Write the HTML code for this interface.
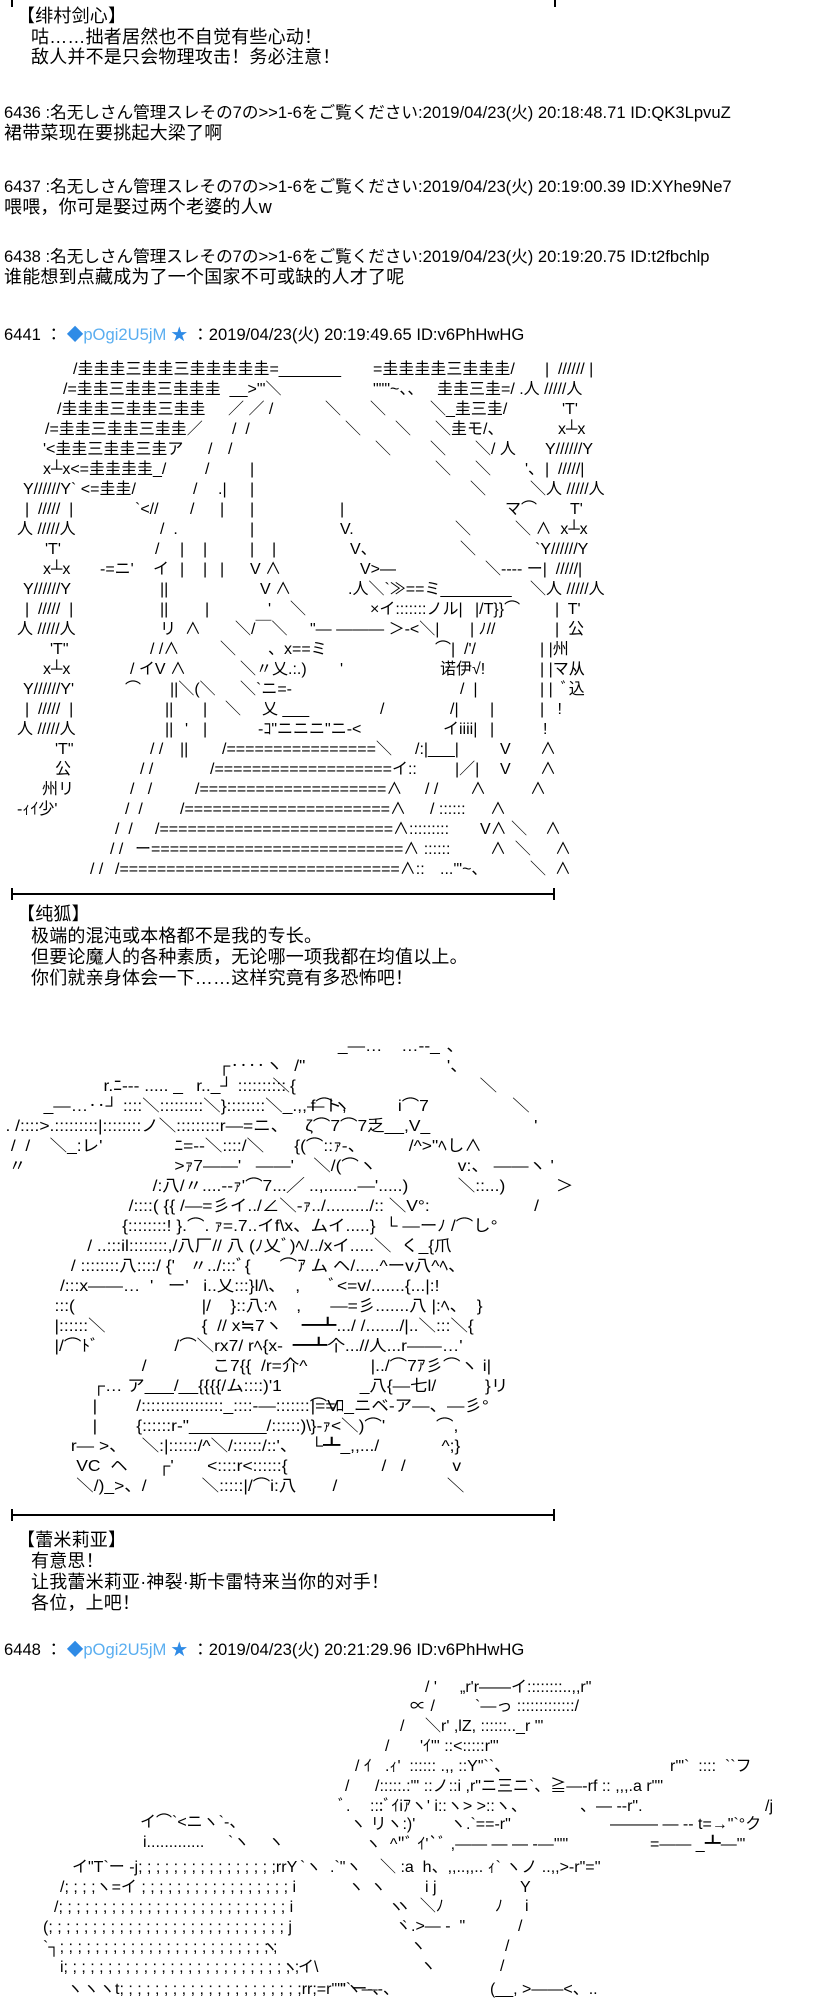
<!DOCTYPE html>
<html><head><meta charset="utf-8"><style>
html,body{margin:0;padding:0;background:#fff;}
body{width:838px;height:2000px;position:relative;overflow:hidden;color:#000;
font-family:"Liberation Sans","Noto Sans CJK SC",sans-serif;}
.t{position:absolute;white-space:pre;font-size:18px;line-height:20px;letter-spacing:0.2px;}
.h{position:absolute;white-space:pre;font-size:16.6px;line-height:20px;left:4px;font-family:"Liberation Sans","Noto Sans CJK JP",sans-serif;}
.b{color:#5aaef0}.bs{color:#2f8be6}
.r{position:absolute;left:0;height:20px;width:838px;}
.r i{position:absolute;top:0;font-style:normal;white-space:pre;font-size:16px;line-height:20px;font-family:"Liberation Sans","Noto Sans CJK JP",sans-serif;}
.sep{position:absolute;left:11px;width:543px;height:2px;background:#000;}
.tk{position:absolute;width:2px;height:12px;background:#000;}
.a2{position:absolute;left:0;top:0;width:838px;height:2000px;transform:scaleX(1.09);transform-origin:0 0;}
</style></head><body>

<div class="tk" style="left:11px;top:0;height:7px"></div>
<div class="tk" style="left:554px;top:0;height:7px"></div>

<div class="t" style="left:17px;top:6px">【绯村剑心】</div>
<div class="t" style="left:31px;top:27px">咕……拙者居然也不自觉有些心动！</div>
<div class="t" style="left:31px;top:47px">敌人并不是只会物理攻击！务必注意！</div>

<div class="h" style="top:103px">6436 :名无しさん管理スレその7の&gt;&gt;1-6をご覧ください:2019/04/23(火) 20:18:48.71 ID:QK3LpvuZ</div>
<div class="t" style="left:4px;top:123px">裙带菜现在要挑起大梁了啊</div>
<div class="h" style="top:177px">6437 :名无しさん管理スレその7の&gt;&gt;1-6をご覧ください:2019/04/23(火) 20:19:00.39 ID:XYhe9Ne7</div>
<div class="t" style="left:4px;top:197px">喂喂，你可是娶过两个老婆的人w</div>
<div class="h" style="top:247px">6438 :名无しさん管理スレその7の&gt;&gt;1-6をご覧ください:2019/04/23(火) 20:19:20.75 ID:t2fbchlp</div>
<div class="t" style="left:4px;top:267px">谁能想到点藏成为了一个国家不可或缺的人才了呢</div>

<div class="h" style="top:325px">6441 ： <span class="bs">◆</span><span class="b">pOgi2U5jM</span> <span class="bs">★</span> ：2019/04/23(火) 20:19:49.65 ID:v6PhHwHG</div>

<!-- ART 1 -->
<div class="r" style="top:360px"><i style="left:73px">/圭圭圭三圭圭三圭圭圭圭圭=_______</i><i style="left:373px">=圭圭圭圭三圭圭圭/</i><i style="left:545px">|  ////// |</i></div>
<div class="r" style="top:380px"><i style="left:63px">/=圭圭三圭圭三圭圭圭  __&gt;"'＼</i><i style="left:373px">"""~、、</i><i style="left:437px">圭圭三圭=/ .人 /////人</i></div>
<div class="r" style="top:400px"><i style="left:57px">/圭圭圭三圭圭三圭圭</i><i style="left:228px">／ ／ /</i><i style="left:325px">＼</i><i style="left:370px">＼</i><i style="left:430px">＼_圭三圭/</i><i style="left:562px">'T'</i></div>
<div class="r" style="top:420px"><i style="left:45px">/=圭圭三圭圭三圭圭／</i><i style="left:232px">/  /</i><i style="left:345px">＼</i><i style="left:395px">＼</i><i style="left:435px">＼圭モ/、</i><i style="left:558px">x┴x</i></div>
<div class="r" style="top:440px"><i style="left:43px">'&lt;圭圭三圭圭三圭ア</i><i style="left:208px">/</i><i style="left:228px">/</i><i style="left:375px">＼</i><i style="left:430px">＼</i><i style="left:475px">＼/ 人</i><i style="left:545px">Y//////Y</i></div>
<div class="r" style="top:460px"><i style="left:43px">x┴x&lt;=圭圭圭圭_/</i><i style="left:205px">/</i><i style="left:250px">|</i><i style="left:435px">＼</i><i style="left:475px">＼</i><i style="left:525px">'、</i><i style="left:545px">|  /////|</i></div>
<div class="r" style="top:480px"><i style="left:23px">Y//////Y` &lt;=圭圭/</i><i style="left:193px">/</i><i style="left:218px">.|</i><i style="left:250px">|</i><i style="left:470px">＼</i><i style="left:530px">＼人 /////人</i></div>
<div class="r" style="top:500px"><i style="left:25px">|  /////  |</i><i style="left:135px">`&lt;//</i><i style="left:190px">/</i><i style="left:220px">|</i><i style="left:250px">|</i><i style="left:340px">|</i><i style="left:505px">マ⌒</i><i style="left:570px">T'</i></div>
<div class="r" style="top:520px"><i style="left:17px">人 /////人</i><i style="left:160px">/  .</i><i style="left:250px">|</i><i style="left:340px">V.</i><i style="left:455px">＼</i><i style="left:515px">＼ ∧  x┴x</i></div>
<div class="r" style="top:540px"><i style="left:45px">'T'</i><i style="left:155px">/</i><i style="left:180px">|</i><i style="left:203px">|</i><i style="left:250px">|</i><i style="left:272px">|</i><i style="left:350px">V、</i><i style="left:460px">＼</i><i style="left:535px">`Y//////Y</i></div>
<div class="r" style="top:560px"><i style="left:43px">x┴x</i><i style="left:100px">-=ニ'</i><i style="left:153px">イ</i><i style="left:180px">|</i><i style="left:203px">|</i><i style="left:220px">|</i><i style="left:250px">V ∧</i><i style="left:360px">V&gt;—</i><i style="left:485px">＼---- ー|  /////|</i></div>
<div class="r" style="top:580px"><i style="left:23px">Y//////Y</i><i style="left:160px">||</i><i style="left:260px">V ∧</i><i style="left:348px">.人＼`≫==ミ________</i><i style="left:530px">＼人 /////人</i></div>
<div class="r" style="top:600px"><i style="left:25px">|  /////  |</i><i style="left:160px">||</i><i style="left:205px">|</i><i style="left:268px">'</i><i style="left:290px">＼</i><i style="left:370px">×イ:::::::ノル|</i><i style="left:475px">|/T}}⌒</i><i style="left:555px">|  T'</i></div>
<div class="r" style="top:620px"><i style="left:17px">人 /////人</i><i style="left:160px">リ  ∧</i><i style="left:235px">＼/￣＼</i><i style="left:310px">"— ——— ＞-&lt;＼|</i><i style="left:470px">| ﾉ//</i><i style="left:555px">|  公</i></div>
<div class="r" style="top:640px"><i style="left:50px">'T"</i><i style="left:150px">/ /∧</i><i style="left:220px">＼</i><i style="left:268px">、x==ミ</i><i style="left:435px">⌒|  /'/</i><i style="left:540px">| |州</i></div>
<div class="r" style="top:660px"><i style="left:43px">x┴x</i><i style="left:130px">/ イV ∧</i><i style="left:240px">＼〃乂.:.)</i><i style="left:340px">'</i><i style="left:440px">诺伊√!</i><i style="left:540px">| |マ从</i></div>
<div class="r" style="top:680px"><i style="left:23px">Y//////Y'</i><i style="left:125px">⌒</i><i style="left:170px">||＼(＼</i><i style="left:240px">＼`ニ=-</i><i style="left:460px">/  |</i><i style="left:540px">| |  ﾞ込</i></div>
<div class="r" style="top:700px"><i style="left:25px">|  /////  |</i><i style="left:165px">||</i><i style="left:203px">|</i><i style="left:225px">＼</i><i style="left:262px">乂 ___</i><i style="left:380px">/</i><i style="left:450px">/|</i><i style="left:490px">|</i><i style="left:540px">|   !</i></div>
<div class="r" style="top:720px"><i style="left:17px">人 /////人</i><i style="left:165px">||</i><i style="left:185px">'</i><i style="left:203px">|</i><i style="left:258px">-ｺ"ニニニ"ニ-&lt;</i><i style="left:443px">イiiii|</i><i style="left:490px">|</i><i style="left:543px">!</i></div>
<div class="r" style="top:740px"><i style="left:55px">'T"</i><i style="left:150px">/ /</i><i style="left:180px">||</i><i style="left:222px">/================＼</i><i style="left:415px">/:|___|</i><i style="left:500px">V</i><i style="left:540px">∧</i></div>
<div class="r" style="top:760px"><i style="left:55px">公</i><i style="left:140px">/ /</i><i style="left:210px">/===================イ::</i><i style="left:455px">|／|</i><i style="left:500px">V</i><i style="left:540px">∧</i></div>
<div class="r" style="top:780px"><i style="left:42px">州リ</i><i style="left:130px">/   /</i><i style="left:195px">/====================∧</i><i style="left:425px">/ /</i><i style="left:470px">∧</i><i style="left:530px">∧</i></div>
<div class="r" style="top:800px"><i style="left:17px">-ｨｲ少'</i><i style="left:125px">/  /</i><i style="left:180px">/======================∧</i><i style="left:430px">/ ::::::</i><i style="left:490px">∧</i></div>
<div class="r" style="top:820px"><i style="left:115px">/  /</i><i style="left:155px">/=========================∧:::::::::</i><i style="left:480px">V∧ ＼</i><i style="left:545px">∧</i></div>
<div class="r" style="top:840px"><i style="left:110px">/ /</i><i style="left:135px">ー===========================∧ ::::::</i><i style="left:490px">∧  ＼</i><i style="left:555px">∧</i></div>
<div class="r" style="top:860px"><i style="left:90px">/ /</i><i style="left:115px">/==============================∧::</i><i style="left:440px">...'"~、</i><i style="left:530px">＼  ∧</i></div>

<div class="sep" style="top:893px"></div>
<div class="tk" style="left:11px;top:888px"></div>
<div class="tk" style="left:553px;top:888px"></div>

<div class="t" style="left:17px;top:904px">【纯狐】</div>
<div class="t" style="left:31px;top:926px">极端的混沌或本格都不是我的专长。</div>
<div class="t" style="left:31px;top:947px">但要论魔人的各种素质，无论哪一项我都在均值以上。</div>
<div class="t" style="left:31px;top:968px">你们就亲身体会一下……这样究竟有多恐怖吧！</div>

<!-- ART 2 -->
<div class="a2">
<div class="r" style="top:1037px"><i style="left:310px">_—…</i><i style="left:368px">…--_</i><i style="left:410px">､</i></div>
<div class="r" style="top:1057px"><i style="left:200px">┌‥‥ヽ</i><i style="left:270px">/"</i><i style="left:410px">'、</i></div>
<div class="r" style="top:1077px"><i style="left:95px">r.ﾆ--- ..... _</i><i style="left:180px">r.._┘ ::::::::::</i><i style="left:250px">＼{</i><i style="left:440px">＼</i></div>
<div class="r" style="top:1097px"><i style="left:40px">_—…‥┘ ::::＼:::::::::＼}::::::::＼_.,,—ト,</i><i style="left:285px">f⌒ヽ</i><i style="left:365px">i⌒7</i><i style="left:470px">＼</i></div>
<div class="r" style="top:1117px"><i style="left:5px">. /::::&gt;.:::::::::|::::::::ノ＼:::::::::r—=ニ、</i><i style="left:280px">ζ⌒7⌒7乏__,V_</i><i style="left:490px">'</i></div>
<div class="r" style="top:1137px"><i style="left:10px">/  /    ＼_:レ'</i><i style="left:160px">ﾆ=--＼::::/＼</i><i style="left:270px">{(⌒::ｧ-、</i><i style="left:375px">/^&gt;"ﾍし∧</i></div>
<div class="r" style="top:1157px"><i style="left:8px">〃</i><i style="left:160px">&gt;ｧ7——'   ——'    ＼/(⌒ヽ</i><i style="left:420px">v:、 ——ヽ</i><i style="left:505px">'</i></div>
<div class="r" style="top:1177px"><i style="left:140px">/:八/〃....--ｧ'⌒7...╱ ..,.......—'.....)</i><i style="left:420px">＼::...)</i><i style="left:510px">＞</i></div>
<div class="r" style="top:1197px"><i style="left:118px">/::::( {{ /—=彡イ../∠＼-ｧ../........./:: ＼V°:</i><i style="left:490px">/</i></div>
<div class="r" style="top:1217px"><i style="left:112px">{::::::::! }.⌒. ｧ=.7..イf\x、ムイ.....}  └ —ーﾉ /⌒し°</i></div>
<div class="r" style="top:1237px"><i style="left:80px">/ ..:::il::::::::,/八厂// 八 (ﾉ乂ﾞ)ﾍ/../xイ.....＼  く_{爪</i></div>
<div class="r" style="top:1257px"><i style="left:65px">/ ::::::::八::::/ {'   〃../:::ﾞ{      ⌒ｱ ム ヘ/.....^ーv八^ﾍ、</i></div>
<div class="r" style="top:1277px"><i style="left:55px">/:::x——…  '   ー'   i..乂:::}l/\、  ,      ﾞ&lt;=v/.......{...|:!</i></div>
<div class="r" style="top:1297px"><i style="left:50px">:::(</i><i style="left:185px">|/    }::八:ﾍ    ,      —=彡.......八 |:ﾍ、  }</i></div>
<div class="r" style="top:1317px"><i style="left:50px">|::::::＼</i><i style="left:185px">{  // x≒7ヽ    ━┻.../ /......./|..＼:::＼{</i></div>
<div class="r" style="top:1337px"><i style="left:50px">|/⌒ﾄﾞ</i><i style="left:160px">/⌒＼rx7/ rﾍ{x-  ━┻个...//人...r——…'</i></div>
<div class="r" style="top:1357px"><i style="left:130px">/</i><i style="left:195px">こ7{{  /r=介^</i><i style="left:340px">|../⌒7ｱ彡⌒ヽ i|</i></div>
<div class="r" style="top:1377px"><i style="left:85px">┌… ア___/__{{{{/ム::::)'1</i><i style="left:330px">_八{—七l/</i><i style="left:445px">}リ</i></div>
<div class="r" style="top:1397px"><i style="left:85px">|</i><i style="left:125px">/:::::::::::::::::_::::-—:::::::⌒V</i><i style="left:285px">|==ﾛ_ニベ-ア—、—彡°</i></div>
<div class="r" style="top:1417px"><i style="left:85px">|</i><i style="left:125px">{::::::r-"________/::::::)\</i><i style="left:285px">}-ｧ&lt;＼)⌒'</i><i style="left:400px">⌒,</i></div>
<div class="r" style="top:1437px"><i style="left:65px">r— &gt;、</i><i style="left:130px">＼:|::::::/^＼/::::::/::'、</i><i style="left:285px">└┻_,,.../</i><i style="left:405px">^;}</i></div>
<div class="r" style="top:1457px"><i style="left:70px">VC  ヘ</i><i style="left:145px">┌'</i><i style="left:190px">&lt;::::r&lt;::::::{</i><i style="left:350px">/   /</i><i style="left:415px">v</i></div>
<div class="r" style="top:1477px"><i style="left:70px">＼/)_&gt;、/</i><i style="left:185px">＼:::::|/⌒i:八</i><i style="left:305px">/</i><i style="left:410px">＼</i></div>
</div>

<div class="sep" style="top:1514px"></div>
<div class="tk" style="left:11px;top:1509px"></div>
<div class="tk" style="left:553px;top:1509px"></div>

<div class="t" style="left:17px;top:1530px">【蕾米莉亚】</div>
<div class="t" style="left:31px;top:1551px">有意思！</div>
<div class="t" style="left:31px;top:1572px">让我蕾米莉亚·神裂·斯卡雷特来当你的对手！</div>
<div class="t" style="left:31px;top:1593px">各位，上吧！</div>

<div class="h" style="top:1640px">6448 ： <span class="bs">◆</span><span class="b">pOgi2U5jM</span> <span class="bs">★</span> ：2019/04/23(火) 20:21:29.96 ID:v6PhHwHG</div>

<!-- ART 3 -->
<div class="r" style="top:1678px"><i style="left:425px">/ '</i><i style="left:460px">„r'r——イ::::::::..,,r"</i></div>
<div class="r" style="top:1697px"><i style="left:410px">∝ /</i><i style="left:475px">`—っ :::::::::::::/</i></div>
<div class="r" style="top:1717px"><i style="left:400px">/</i><i style="left:425px">＼r' ,lZ, ::::::.._r "'</i></div>
<div class="r" style="top:1737px"><i style="left:385px">/</i><i style="left:420px">'ｲ"' ::&lt;:::::r"'</i></div>
<div class="r" style="top:1757px"><i style="left:355px">/ ｲ</i><i style="left:385px">.ｨ'  :::::: .,, ::Y"``、</i><i style="left:670px">r'"`  ::::  ``フ</i></div>
<div class="r" style="top:1777px"><i style="left:345px">/</i><i style="left:375px">/:::::.:"' ::ノ::i ,r"ニ三ニ`、≧—-rf :: ,,,.a r""</i></div>
<div class="r" style="top:1797px"><i style="left:338px">ﾞ.</i><i style="left:370px">:::ﾞｲiｱヽ' i::ヽ&gt; &gt;::ヽ、</i><i style="left:580px">、— --r".</i><i style="left:765px">/j</i></div>
<div class="r" style="top:1815px"><i style="left:350px">ヽ リヽ:)'</i><i style="left:450px">ヽ.`==-r"</i><i style="left:610px">——— — -- t=→"`°ク</i></div>
<div class="r" style="top:1835px"><i style="left:365px">ヽ  ^"ﾞ ｲ'`ﾞ ,—— — — -—'""</i><i style="left:650px">=—— _┻—"'</i></div>
<div class="r" style="top:1858px"><i style="left:330px">.`"ヽ</i><i style="left:380px">＼ :a  h、,,..,,.. ｨ` ヽノ ..,,&gt;-r"=''</i></div>
<div class="r" style="top:1878px"><i style="left:370px">ヽ</i><i style="left:425px">i j</i><i style="left:520px">Y</i></div>
<div class="r" style="top:1897px"><i style="left:395px">ヽ  ＼ﾉ</i><i style="left:495px">ﾉ</i><i style="left:525px">i</i></div>
<div class="r" style="top:1917px"><i style="left:395px">ヽ.&gt;— -  "</i><i style="left:518px">/</i></div>
<div class="r" style="top:1937px"><i style="left:410px">ヽ</i><i style="left:505px">/</i></div>
<div class="r" style="top:1957px"><i style="left:420px">ヽ</i><i style="left:500px">/</i></div>
<div class="r" style="top:1980px"><i style="left:340px">"ヽ—-、</i><i style="left:490px">(__, &gt;——&lt;、..</i></div>

<div class="r" style="top:1813px"><i style="left:140px">イ⌒`&lt;ニヽ`-、</i></div>
<div class="r" style="top:1833px"><i style="left:143px">i.............</i><i style="left:228px">`ヽ</i><i style="left:268px">ヽ</i></div>
<div class="r" style="top:1858px"><i style="left:72px">イ"T`ー -j; ; ; ; ; ; ; ; ; ; ; ; ; ; ; ;rrY</i><i style="left:300px">`ヽ</i></div>
<div class="r" style="top:1878px"><i style="left:60px">/; ; ; ;ヽ=イ ; ; ; ; ; ; ; ; ; ; ; ; ; ; ; ; ; i</i><i style="left:348px">ヽ</i></div>
<div class="r" style="top:1898px"><i style="left:54px">/; ; ; ; ; ; ; ; ; ; ; ; ; ; ; ; ; ; ; ; ; ; ; ; ; ; i</i><i style="left:388px">ヽ</i></div>
<div class="r" style="top:1918px"><i style="left:43px">(; ; ; ; ; ; ; ; ; ; ; ; ; ; ; ; ; ; ; ; ; ; ; ; ; ; ; j</i><i style="left:402px">`</i></div>
<div class="r" style="top:1938px"><i style="left:43px">`┐; ; ; ; ; ; ; ; ; ; ; ; ; ; ; ; ; ; ; ; ; ; ; ; ;</i><i style="left:262px">ヽ</i></div>
<div class="r" style="top:1958px"><i style="left:60px">i; ; ; ; ; ; ; ; ; ; ; ; ; ; ; ; ; ; ; ; ; ; ; ; ; ; ;</i><i style="left:282px">ヽイ\</i></div>
<div class="r" style="top:1980px"><i style="left:67px">ヽヽヽt; ; ; ; ; ; ; ; ; ; ; ; ; ; ; ; ; ; ; ; ;rr;=r"'"`ー-、</i></div>

</body></html>
